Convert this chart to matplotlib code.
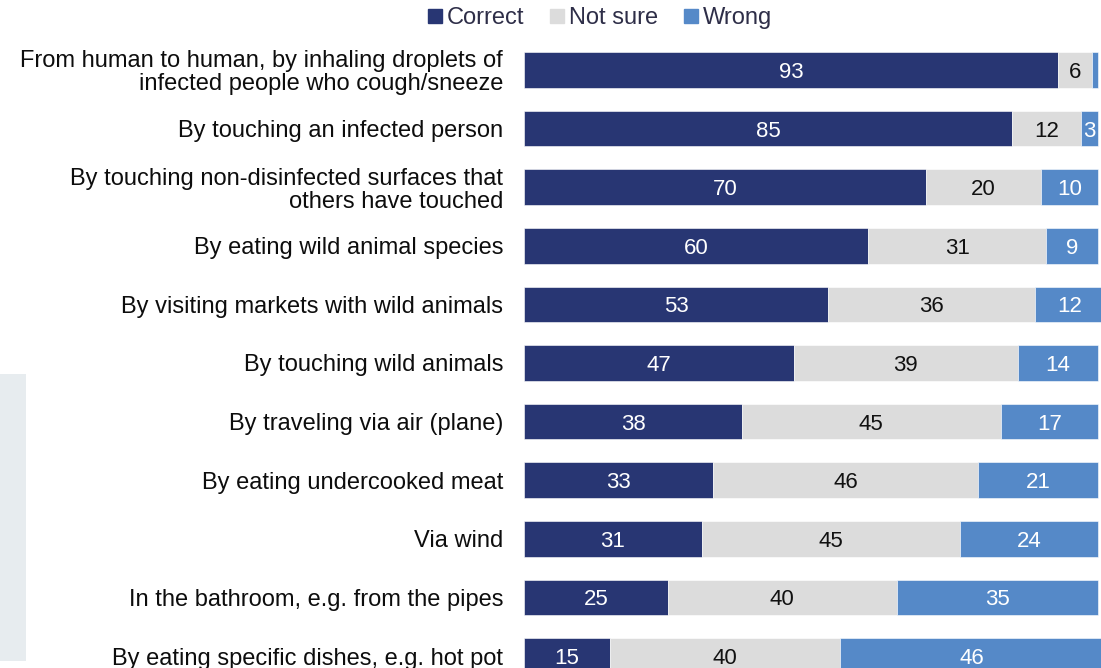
import matplotlib
matplotlib.use("Agg")
import matplotlib.pyplot as plt
from matplotlib.lines import Line2D
from matplotlib.patches import Rectangle

categories = [
    "From human to human, by inhaling droplets of\ninfected people who cough/sneeze",
    "By touching an infected person",
    "By touching non-disinfected surfaces that\nothers have touched",
    "By eating wild animal species",
    "By visiting markets with wild animals",
    "By touching wild animals",
    "By traveling via air (plane)",
    "By eating undercooked meat",
    "Via wind",
    "In the bathroom, e.g. from the pipes",
    "By eating specific dishes, e.g. hot pot",
]
correct = [93, 85, 70, 60, 53, 47, 38, 33, 31, 25, 15]
not_sure = [6, 12, 20, 31, 36, 39, 45, 46, 45, 40, 40]
wrong = [1, 3, 10, 9, 12, 14, 17, 21, 24, 35, 46]

series_names = ["Correct", "Not sure", "Wrong"]
colors = ["#283673", "#DCDCDC", "#5589C8"]
text_colors = ["white", "#111111", "white"]

plt.rcParams["font.family"] = ["Liberation Sans", "DejaVu Sans"]

W, H = 1101, 668
fig = plt.figure(figsize=(W / 100, H / 100), dpi=100)

# light panel at the left edge
fig.patches.append(Rectangle((0, 1 - 661 / H), 26 / W, (661 - 374) / H,
                             transform=fig.transFigure, facecolor="#E7ECEF",
                             edgecolor="none", zorder=0))

left_px = 524
top_px = 40.7
bottom_px = 685.3
ax = fig.add_axes([left_px / W, 1 - bottom_px / H, 1 - left_px / W,
                   (bottom_px - top_px) / H])

ypos = list(range(len(categories)))
lefts = [0] * len(categories)
for vals, col, tcol in zip([correct, not_sure, wrong], colors, text_colors):
    ax.barh(ypos, vals, left=lefts, height=0.61, color=col,
            edgecolor="white", linewidth=0.4)
    for y, v, l in zip(ypos, vals, lefts):
        if v >= 2:
            ax.text(l + v / 2, y, f"{v}", ha="center", va="center_baseline",
                    color=tcol, fontsize=16)
    lefts = [a + b for a, b in zip(lefts, vals)]

ax.set_xlim(0, 100.5)
ax.set_ylim(len(categories) - 0.5, -0.5)
ax.set_yticks(ypos)
ax.set_yticklabels(categories, fontsize=17, color="#0D0D0D",
                   linespacing=1.05)
ax.tick_params(axis="y", length=0, pad=15)
ax.set_xticks([])
for s in ax.spines.values():
    s.set_visible(False)

handles = [Line2D([], [], marker="s", linestyle="", markersize=9.5,
                  markerfacecolor=c, markeredgecolor=c) for c in colors]
leg = fig.legend(handles, series_names, loc="center",
                 bbox_to_anchor=(600 / W, 1 - 18 / H), ncol=3, frameon=False,
                 fontsize=17, handlelength=0.6, handletextpad=0.2,
                 columnspacing=1.1, borderpad=0, borderaxespad=0)
for t in leg.get_texts():
    t.set_color("#2E2E48")

fig.savefig("out.png", dpi=100)
